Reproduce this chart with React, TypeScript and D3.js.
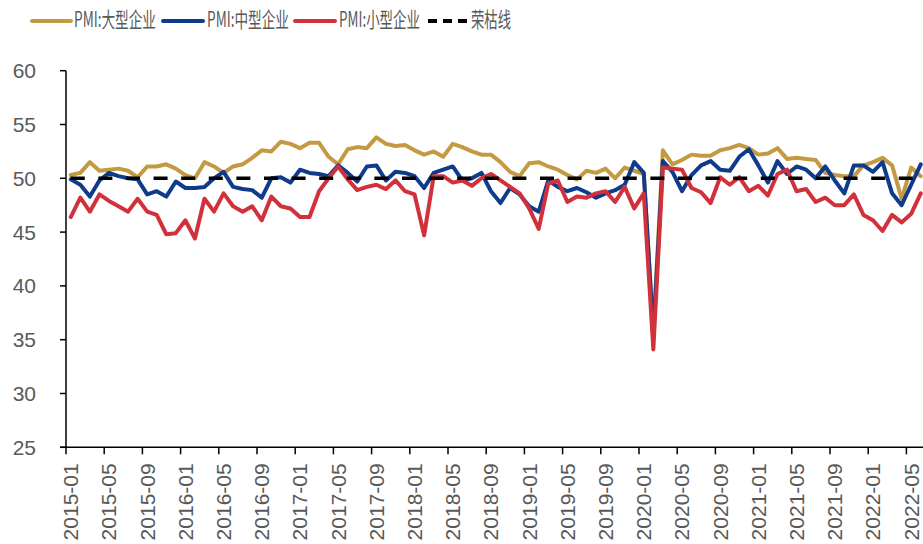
import React from "react";
import * as d3 from "d3";

const months: string[] = [];
for (let y = 2015; y <= 2022; y++) {
  for (let m = 1; m <= 12; m++) {
    if (y === 2022 && m > 6) break;
    months.push(`${y}-${String(m).padStart(2, "0")}`);
  }
}

const large = [
  50.3, 50.5, 51.5, 50.7, 50.8, 50.9, 50.7, 50.1, 51.1, 51.1, 51.3, 50.9,
  50.3, 50.0, 51.5, 51.1, 50.5, 51.1, 51.3, 51.9, 52.6, 52.5, 53.4, 53.2,
  52.8, 53.3, 53.3, 52.0, 51.3, 52.7, 52.9, 52.8, 53.8, 53.2, 53.0, 53.1,
  52.6, 52.2, 52.5, 52.0, 53.2, 52.9, 52.5, 52.2, 52.2, 51.5, 50.6, 50.2,
  51.4, 51.5, 51.1, 50.8, 50.3, 49.9, 50.7, 50.5, 50.9, 50.0, 51.0, 50.7,
  50.4, 35.7, 52.6, 51.3, 51.7, 52.2, 52.1, 52.1, 52.6, 52.8, 53.1, 52.8,
  52.2, 52.3, 52.8, 51.8, 51.9, 51.8, 51.7, 50.5, 50.3, 50.2, 50.2, 51.2,
  51.5, 51.9, 51.2, 48.1, 51.0, 50.2,
];

const medium = [
  49.9, 49.4, 48.3, 49.8, 50.5, 50.2, 50.0, 49.9, 48.5, 48.8, 48.3, 49.7,
  49.1, 49.1, 49.2, 50.0, 50.6, 49.2, 49.0, 48.9, 48.2, 50.0, 50.1, 49.6,
  50.8, 50.5, 50.4, 50.2, 51.2, 50.5, 49.7, 51.1, 51.2, 49.8, 50.6, 50.5,
  50.2, 49.1, 50.5, 50.8, 51.1, 49.8, 50.0, 50.5, 48.8, 47.7, 49.1, 48.5,
  47.4, 46.9, 49.8, 49.2, 48.8, 49.1, 48.7, 48.2, 48.6, 48.9, 49.4, 51.5,
  50.5, 35.5, 51.6, 50.6, 48.8, 50.3, 51.2, 51.6, 50.8, 50.7, 52.0, 52.7,
  51.2, 49.6, 51.6, 50.4, 51.1, 50.8, 50.0, 51.1, 49.8, 48.6, 51.2, 51.2,
  50.6, 51.5, 48.6, 47.5, 49.4, 51.3,
];

const small = [
  46.4, 48.2, 46.9, 48.5, 47.9, 47.4, 46.9, 48.1, 46.9, 46.6, 44.8, 44.9,
  46.1, 44.4, 48.1, 46.9, 48.6, 47.4, 46.9, 47.4, 46.1, 48.3, 47.4, 47.2,
  46.4, 46.4, 48.8, 50.0, 51.1, 49.9, 48.9, 49.2, 49.4, 49.0, 49.8, 48.8,
  48.5, 44.7, 50.2, 50.2, 49.6, 49.8, 49.3, 50.0, 50.4, 49.8, 49.2, 48.6,
  47.2, 45.3, 49.5, 49.8, 47.8, 48.3, 48.2, 48.6, 48.8, 47.8, 49.2, 47.2,
  48.6, 34.1, 51.0, 50.9, 50.8, 49.1, 48.7, 47.7, 50.1, 49.4, 50.1, 48.8,
  49.3, 48.4, 50.4, 50.8, 48.8, 49.0, 47.8, 48.2, 47.5, 47.5, 48.5, 46.6,
  46.1, 45.1, 46.6, 45.9, 46.7, 48.6,
];

const boomBust = months.map(() => 50);

const yTicks = [25, 30, 35, 40, 45, 50, 55, 60];

const seriesNames = ["PMI:大型企业", "PMI:中型企业", "PMI:小型企业", "荣枯线"];
const colors = ["#C39A41", "#0E3B8C", "#D1313A", "#000000"];

const W = 923;
const H = 544;
const left = 66;
const right = 925.5;
const top = 70.7;
const bottom = 447.3;

export default function App() {
  const x = d3.scaleBand<string>().domain(months).range([left, right]).padding(0);
  const bw = x.bandwidth();
  const cx = (m: string) => (x(m) as number) + bw / 2;
  const y = d3.scaleLinear().domain([25, 60]).range([bottom, top]);

  const line = d3
    .line<number>()
    .x((_, i) => cx(months[i]))
    .y((d) => y(d));

  const data = [large, medium, small];
  const labelColor = "#595959";
  const tickMonths = months.filter((_, i) => i % 4 === 0);

  const legendItems = [
    { x0: 32, x1: 71, tx: 74, tl: 82 },
    { x0: 163, x1: 203, tx: 207, tl: 82 },
    { x0: 295, x1: 335, tx: 339, tl: 81 },
    { x0: 428, x1: 469, tx: 471, tl: 40 },
  ];

  return (
    <svg
      width={W}
      height={H}
      style={{ position: "absolute", left: 0, top: 0, background: "#fff" }}
      fontFamily="'Liberation Sans', Arial, sans-serif"
    >
      <rect x={0} y={0} width={W} height={H} fill="#fff" />
      {/* legend */}
      {legendItems.map((it, k) => (
        <g key={k}>
          <line
            x1={it.x0}
            x2={it.x1}
            y1={21}
            y2={21}
            stroke={colors[k]}
            strokeWidth={4}
            strokeDasharray={k === 3 ? "9,6" : undefined}
            strokeLinecap={k === 3 ? "butt" : "round"}
          />
          <text
            x={it.tx}
            y={18}
            dominantBaseline="central"
            fontSize={21}
            fill={labelColor}
            fontFamily="'Noto Sans CJK SC', 'Liberation Sans', sans-serif"
            textLength={it.tl}
            lengthAdjust="spacingAndGlyphs"
          >
            {seriesNames[k]}
          </text>
        </g>
      ))}

      {/* series */}
      {data.map((d, k) => (
        <path
          key={k}
          d={line(d) as string}
          fill="none"
          stroke={colors[k]}
          strokeWidth={4}
          strokeLinejoin="round"
          strokeLinecap="round"
        />
      ))}
      <path
        d={line(boomBust) as string}
        fill="none"
        stroke="#000"
        strokeWidth={3.5}
        strokeDasharray="14,13.6"
      />

      {/* y axis */}
      <line x1={left} x2={left} y1={top} y2={bottom} stroke="#000" strokeWidth={1.5} />
      {yTicks.map((t) => (
        <g key={t}>
          <line x1={left - 6} x2={left} y1={y(t)} y2={y(t)} stroke="#000" strokeWidth={1.5} />
          <text
            x={36}
            y={y(t)}
            textAnchor="end"
            dominantBaseline="central"
            fontSize={21}
            fill={labelColor}
          >
            {t}
          </text>
        </g>
      ))}

      {/* x axis */}
      <line x1={left - 6} x2={W} y1={bottom} y2={bottom} stroke="#000" strokeWidth={1.5} />
      {tickMonths.map((m) => (
        <g key={m}>
          <line
            x1={x(m) as number}
            x2={x(m) as number}
            y1={bottom}
            y2={bottom + 7}
            stroke="#000"
            strokeWidth={1.5}
          />
          <text
            transform={`translate(${cx(m)},${bottom + 16}) rotate(-90)`}
            textAnchor="end"
            dominantBaseline="central"
            fontSize={21}
            fill={labelColor}
          >
            {m}
          </text>
        </g>
      ))}
    </svg>
  );
}
